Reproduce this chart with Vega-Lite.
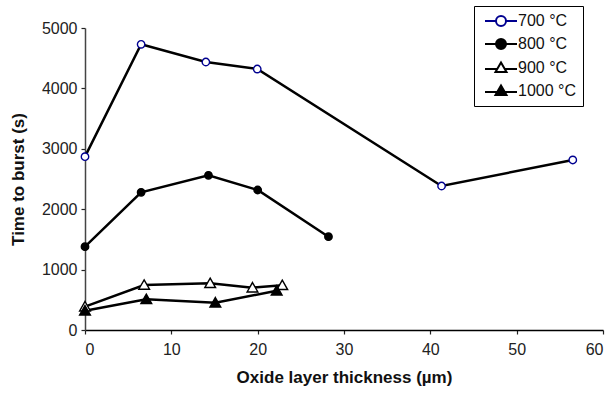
{
  "$schema": "https://vega.github.io/schema/vega-lite/v6.json",
  "width": 518,
  "height": 302,
  "autosize": {"type": "none"},
  "padding": {"left": 85, "top": 28, "right": 9, "bottom": 65},
  "background": "white",
  "config": {
    "view": {"stroke": null},
    "font": "Liberation Sans",
    "axis": {
      "grid": false,
      "labelFont": "Liberation Sans",
      "labelFontSize": 16,
      "labelColor": "#222",
      "titleFont": "Liberation Sans",
      "titleFontSize": 17,
      "titleFontWeight": "bold",
      "titleColor": "#111",
      "domainColor": "#222",
      "domainWidth": 1.5,
      "tickColor": "#222",
      "tickWidth": 1.2,
      "tickSize": 4
    },
    "legend": {
      "labelFont": "Liberation Sans",
      "labelFontSize": 16,
      "labelColor": "#111",
      "orient": "none",
      "legendX": 389,
      "legendY": -22,
      "padding": 7,
      "symbolSize": 100,
      "symbolStrokeWidth": 2,
      "symbolOpacity": 1,
      "symbolOffset": 12,
      "labelOffset": 9,
      "rowPadding": 5,
      "strokeColor": "black",
      "fillColor": "white"
    }
  },
  "data": {
    "values": [
      {"series": "700 °C", "x": 0, "y": 2870},
      {"series": "700 °C", "x": 6.5, "y": 4730},
      {"series": "700 °C", "x": 14.0, "y": 4437},
      {"series": "700 °C", "x": 19.95, "y": 4321},
      {"series": "700 °C", "x": 41.3, "y": 2384},
      {"series": "700 °C", "x": 56.5, "y": 2815},
      {"series": "800 °C", "x": 0, "y": 1379},
      {"series": "800 °C", "x": 6.5, "y": 2280},
      {"series": "800 °C", "x": 14.3, "y": 2561},
      {"series": "800 °C", "x": 20.0, "y": 2318},
      {"series": "800 °C", "x": 28.2, "y": 1545},
      {"series": "900 °C", "x": 0, "y": 386},
      {"series": "900 °C", "x": 6.85, "y": 745},
      {"series": "900 °C", "x": 14.5, "y": 773},
      {"series": "900 °C", "x": 19.4, "y": 700},
      {"series": "900 °C", "x": 22.85, "y": 740},
      {"series": "1000 °C", "x": 0, "y": 320},
      {"series": "1000 °C", "x": 7.1, "y": 508},
      {"series": "1000 °C", "x": 15.1, "y": 452},
      {"series": "1000 °C", "x": 22.2, "y": 650}
    ]
  },
  "encoding": {
    "x": {
      "field": "x",
      "type": "quantitative",
      "scale": {"domain": [0, 60], "nice": false},
      "axis": {"values": [0, 10, 20, 30, 40, 50, 60], "title": "Oxide layer thickness (µm)", "labelPadding": 7, "titlePadding": 12, "domainColor": "#000"}
    },
    "y": {
      "field": "y",
      "type": "quantitative",
      "scale": {"domain": [0, 5000], "nice": false},
      "axis": {"values": [0, 1000, 2000, 3000, 4000, 5000], "format": "d", "title": "Time to burst (s)", "labelPadding": 4, "titlePadding": 14, "domainColor": "#444"}
    }
  },
  "layer": [
    {
      "mark": {"type": "line", "color": "black", "strokeWidth": 2.5},
      "encoding": {"detail": {"field": "series"}}
    },
    {
      "mark": {"type": "point", "size": 100, "strokeWidth": 2, "opacity": 0},
      "encoding": {
        "shape": {
          "field": "series",
          "type": "nominal",
          "scale": {
            "domain": ["700 °C", "800 °C", "900 °C", "1000 °C"],
            "range": [
              "M-3.2,0L-1,0M1,0L3.2,0M-1,0A1,1 0 1,0 1,0A1,1 0 1,0 -1,0Z",
              "M-3.2,0L-1,0M1,0L3.2,0M-1,0A1,1 0 1,0 1,0A1,1 0 1,0 -1,0Z",
              "M-3.2,0.2L-0.75,0.2M0.75,0.2L3.2,0.2M0,-1.1L1.1,0.8L-1.1,0.8Z",
              "M-3.2,0.2L-0.75,0.2M0.75,0.2L3.2,0.2M0,-1.1L1.1,0.8L-1.1,0.8Z"
            ]
          },
          "legend": {"title": null}
        },
        "fill": {
          "field": "series",
          "type": "nominal",
          "scale": {"domain": ["700 °C", "800 °C", "900 °C", "1000 °C"], "range": ["white", "black", "white", "black"]},
          "legend": {"title": null}
        },
        "stroke": {
          "field": "series",
          "type": "nominal",
          "scale": {"domain": ["700 °C", "800 °C", "900 °C", "1000 °C"], "range": ["#000090", "black", "black", "black"]},
          "legend": {"title": null}
        }
      }
    },
    {
      "transform": [{"filter": "datum.series === '700 °C' || datum.series === '800 °C'"}],
      "mark": {"type": "point", "shape": "circle", "size": 55, "strokeWidth": 1.4, "opacity": 1},
      "encoding": {
        "fill": {"field": "series", "type": "nominal", "legend": null},
        "stroke": {"field": "series", "type": "nominal", "legend": null}
      }
    },
    {
      "transform": [{"filter": "datum.series === '900 °C' || datum.series === '1000 °C'"}],
      "mark": {"type": "point", "shape": "M0,-1.4L1.45,1.15L-1.45,1.15Z", "size": 55, "strokeWidth": 1.4, "opacity": 1},
      "encoding": {
        "fill": {"field": "series", "type": "nominal", "legend": null},
        "stroke": {"field": "series", "type": "nominal", "legend": null}
      }
    }
  ]
}
